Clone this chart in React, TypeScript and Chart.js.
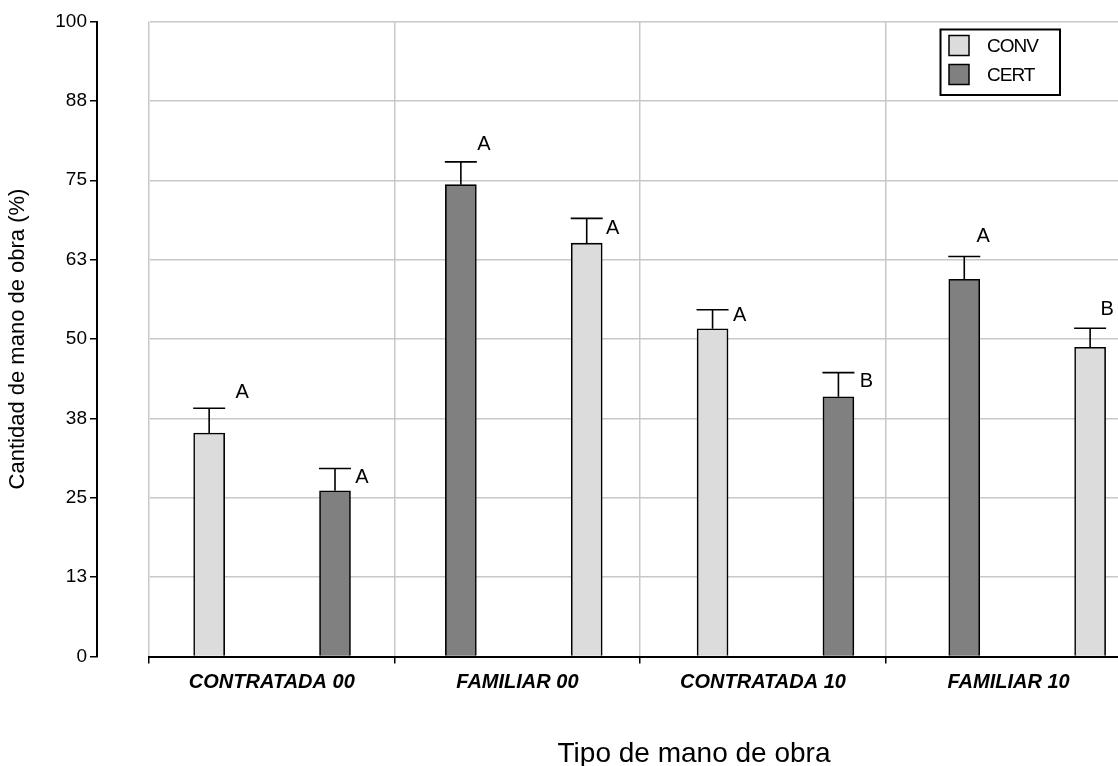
import React, { useEffect, useRef } from 'react';
import { Chart, registerables } from 'chart.js';

Chart.register(...registerables);

// ---- data ----
const categories = ['CONTRATADA 00', 'FAMILIAR 00', 'CONTRATADA 10', 'FAMILIAR 10'];
const seriesNames = ['CONV', 'CERT'];
const convValues = [35.2, 65.1, 51.6, 48.7];
const convErrors = [3.9, 3.9, 3.0, 3.0];
const certValues = [26.1, 74.3, 40.9, 59.4];
const certErrors = [3.5, 3.6, 3.8, 3.6];
const convLetters = ['A', 'A', 'A', 'B'];
const certLetters = ['A', 'A', 'B', 'A'];
// which series is drawn first (left) inside each category
const convFirst = [true, false, true, false];
const yTickValues = [0, 12.5, 25, 37.5, 50, 62.5, 75, 87.5, 100];
const yTickLabels = ['0', '13', '25', '38', '50', '63', '75', '88', '100'];
const xTitle = 'Tipo de mano de obra';
const yTitle = 'Cantidad de mano de obra (%)';

// ---- styles ----
const FONT = "'Liberation Sans', Arial, Helvetica, sans-serif";
const LIGHT = '#dcdcdc';
const DARK = '#808080';
const GRID = '#c8c8c8';

// letter label offsets (px) from the error-bar cap centre, per series per category
const letterOffsets: Record<string, number[][]> = {
  CONV: [[33, -16], [26, 10], [27, 6], [17, -19]],
  CERT: [[27, 9], [23, -17], [28, 9], [19, -20]],
};

const slotOf = (cat: number, isConv: boolean) =>
  2 * cat + ((convFirst[cat] ? isConv : !isConv) ? 0 : 1);

const errorBarPlugin = {
  id: 'errorBars',
  afterDatasetsDraw(chart: any) {
    const ctx = chart.ctx;
    const yScale = chart.scales.y;
    ctx.save();
    chart.data.datasets.forEach((ds: any, di: number) => {
      const meta = chart.getDatasetMeta(di);
      meta.data.forEach((el: any, i: number) => {
        const top = yScale.getPixelForValue(ds.data[i].y + ds.errors[i]);
        ctx.strokeStyle = '#000';
        ctx.lineWidth = 1.6;
        ctx.beginPath();
        ctx.moveTo(el.x, el.y);
        ctx.lineTo(el.x, top);
        ctx.moveTo(el.x - 16, top);
        ctx.lineTo(el.x + 16, top);
        ctx.stroke();
        const off = letterOffsets[ds.label][ds.cats[i]];
        ctx.fillStyle = '#000';
        ctx.font = `20px ${FONT}`;
        ctx.textAlign = 'center';
        ctx.textBaseline = 'middle';
        ctx.fillText(ds.letters[i], el.x + off[0], top + off[1]);
      });
    });
    ctx.restore();
  },
};

const boxLegendPlugin = {
  id: 'boxLegend',
  afterDraw(chart: any) {
    const ctx = chart.ctx;
    ctx.save();
    ctx.strokeStyle = '#000';
    ctx.lineWidth = 2;
    ctx.strokeRect(940.5, 29.5, 119.5, 65.5);
    chart.data.datasets.forEach((ds: any, i: number) => {
      const y = 35.5 + i * 29;
      ctx.fillStyle = ds.backgroundColor;
      ctx.fillRect(949, y, 20, 20);
      ctx.lineWidth = 1.5;
      ctx.strokeRect(949, y, 20, 20);
      ctx.fillStyle = '#000';
      ctx.font = `19px ${FONT}`;
      (ctx as any).letterSpacing = '-1px';
      ctx.textAlign = 'left';
      ctx.textBaseline = 'middle';
      ctx.fillText(ds.label, 987, y + 11);
    });
    ctx.restore();
  },
};

const xTitlePlugin = {
  id: 'xTitle',
  afterDraw(chart: any) {
    const ctx = chart.ctx;
    ctx.save();
    ctx.fillStyle = '#000';
    ctx.font = `28px ${FONT}`;
    ctx.textAlign = 'center';
    ctx.textBaseline = 'alphabetic';
    ctx.fillText(xTitle, 694, 762);
    ctx.restore();
  },
};

export default function App() {
  const ref = useRef<HTMLCanvasElement>(null);

  useEffect(() => {
    const convData = categories.map((_, i) => ({ x: slotOf(i, true), y: convValues[i] }));
    const certData = categories.map((_, i) => ({ x: slotOf(i, false), y: certValues[i] }));
    const common = {
      borderColor: '#000',
      borderWidth: 1.6,
      xAxisID: 'xb',
      yAxisID: 'y',
      grouped: false,
      maxBarThickness: 31,
      barPercentage: 1,
      categoryPercentage: 1,
    };
    const chart = new Chart(ref.current!, {
      type: 'bar',
      data: {
        datasets: [
          {
            ...common,
            label: seriesNames[0],
            data: convData,
            backgroundColor: LIGHT,
            errors: convErrors,
            letters: convLetters,
            cats: [0, 1, 2, 3],
          } as any,
          {
            ...common,
            label: seriesNames[1],
            data: certData,
            backgroundColor: DARK,
            errors: certErrors,
            letters: certLetters,
            cats: [0, 1, 2, 3],
          } as any,
        ],
      },
      options: {
        responsive: false,
        animation: false,
        layout: { padding: { top: 21.5, left: 0, right: 256.6, bottom: 71.5 } },
        plugins: {
          legend: { display: false },
          tooltip: { enabled: false },
          title: { display: false },
        },
        scales: {
          x: {
            type: 'category',
            labels: categories,
            position: 'bottom',
            offset: true,
            grid: {
              offset: true,
              color: GRID,
              lineWidth: 1.5,
              tickColor: '#000',
              tickLength: 7,
              tickWidth: 1.5,
            },
            border: { color: '#000', width: 2, z: 1 },
            ticks: {
              color: '#000',
              padding: 7,
              maxRotation: 0,
              autoSkip: false,
              font: { family: FONT, size: 20, style: 'italic', weight: 'bold' },
            },
            afterFit: (s: any) => {
              s.height = 38;
            },
          },
          xb: {
            type: 'linear',
            display: false,
            offset: false,
            bounds: 'ticks',
            min: -0.478,
            max: 7.328,
            grid: { offset: false },
          },
          y: {
            type: 'linear',
            position: 'left',
            weight: 1,
            min: 0,
            max: 100,
            afterBuildTicks: (s: any) => {
              s.ticks = yTickValues.map((v) => ({ value: v }));
            },
            ticks: {
              callback: (_v: any, i: number) => yTickLabels[i],
              color: '#000',
              padding: 3,
              font: { family: FONT, size: 19 },
            },
            grid: {
              color: GRID,
              lineWidth: 1.5,
              tickColor: '#000',
              tickLength: 7,
              tickWidth: 1.5,
            },
            border: { color: '#000', width: 2 },
            title: {
              display: true,
              text: yTitle,
              color: '#000',
              font: { family: FONT, size: 22 },
              padding: { top: 5, bottom: 0 },
            },
            afterFit: (s: any) => {
              s.width = 97;
            },
          },
          yGap: {
            type: 'linear',
            position: 'left',
            weight: 0,
            grid: { display: false },
            border: { display: false },
            ticks: { display: false },
            afterFit: (s: any) => {
              s.width = 52;
            },
          },
        },
      } as any,
      plugins: [errorBarPlugin, boxLegendPlugin, xTitlePlugin],
    });
    return () => chart.destroy();
  }, []);

  return (
    <div
      style={{
        position: 'fixed',
        left: 0,
        top: 0,
        width: 1118,
        height: 766,
        overflow: 'hidden',
        background: '#fff',
      }}
    >
      <canvas ref={ref} width={1388} height={766} style={{ display: 'block', width: 1388, height: 766 }} />
    </div>
  );
}
